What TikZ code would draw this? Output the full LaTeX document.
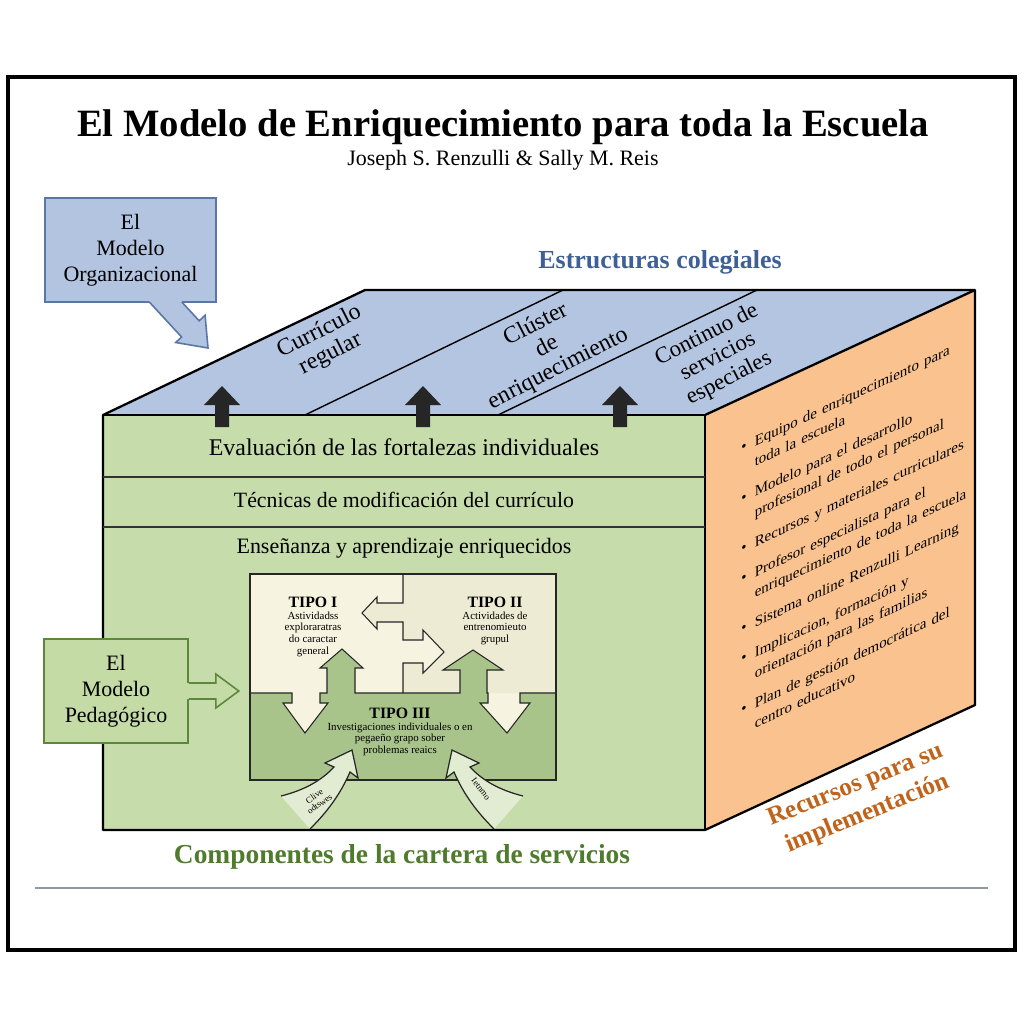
\documentclass[tikz,border=0pt]{standalone}
\usepackage{fontspec}
\setmainfont{Liberation Serif}
\usepackage{tikz}
\usetikzlibrary{positioning,calc}
\definecolor{topblue}{RGB}{180,197,225}
\definecolor{orgblue}{RGB}{178,196,224}
\definecolor{orgline}{RGB}{88,118,166}
\definecolor{facegreen}{RGB}{198,220,171}
\definecolor{pedgreen}{RGB}{196,219,166}
\definecolor{pedline}{RGB}{92,136,60}
\definecolor{sideorange}{RGB}{249,194,143}
\definecolor{creamA}{RGB}{246,243,224}
\definecolor{creamB}{RGB}{237,235,211}
\definecolor{tipogreen}{RGB}{168,196,139}
\definecolor{curvefill}{RGB}{226,236,210}
\definecolor{titleblue}{RGB}{63,96,150}
\definecolor{titlegreen}{RGB}{80,122,46}
\definecolor{titleorange}{RGB}{192,100,28}
\definecolor{rulegray}{RGB}{140,154,158}

\tikzset{
	cubeline/.style={draw=black,line width=1.3pt,line join=round},
	bandline/.style={draw=black!80,line width=0.7pt},
	modelbox/.style={rectangle,align=center,inner sep=0pt,minimum height=20.8mm,font=\fontsize{12.5}{14.8}\selectfont},
	toplabel/.style={align=center,rotate=27,font=\fontsize{13.5}{14}\selectfont},
	bandtext/.style={font=\fontsize{12.5}{15}\selectfont},
	tipohead/.style={font=\fontsize{9}{9.5}\selectfont\bfseries,inner sep=0pt},
	tipotext/.style={align=center,font=\fontsize{6.2}{6.7}\selectfont,inner sep=0pt},
	tipoline/.style={draw=black!85,line width=0.6pt,line join=miter},
	blockup/.style={fill=black!85},
	curvearrow/.style={draw=black!85,line width=0.7pt,fill=curvefill},
	curvetext/.style={font=\fontsize{5}{5.3}\selectfont,align=center,inner sep=0pt}
}
\newcommand{\resitem}[1]{\par\hangindent=0.9em\hangafter=1\noindent\makebox[0.9em][l]{\textbullet}#1\par\vspace{5.5pt}}

\begin{document}
\begin{tikzpicture}[x=0.2mm,y=-0.2mm]
		
		\useasboundingbox (0,0) rectangle (1024,1024);
		\fill[white] (0,0) rectangle (1024,1024);
		\draw[line width=1.8pt] (8,77) rectangle (1015,950);
		
		% title
		\node[font=\fontsize{22}{26}\selectfont\bfseries] (title) at (503,127) {El Modelo de Enriquecimiento para toda la Escuela};
		\node[font=\fontsize{12.5}{15}\selectfont] (authors) at (503,160) {Joseph S. Renzulli \& Sally M. Reis};
		
		% cube
		\coordinate (FLT) at (103,415);
		\coordinate (FRT) at (705,415);
		\coordinate (FRB) at (705,830);
		\coordinate (FLB) at (103,830);
		\coordinate (BLT) at (365,290);
		\coordinate (BRT) at (975,290);
		\coordinate (BRB) at (975,705);
		
		\fill[topblue] (FLT) -- (FRT) -- (BRT) -- (BLT) -- cycle;
		\fill[sideorange] (FRT) -- (BRT) -- (BRB) -- (FRB) -- cycle;
		\fill[facegreen] (FLT) rectangle (FRB);
		\draw[cubeline] (FLB) -- (FLT) -- (BLT) -- (BRT) -- (BRB) -- (FRB) -- cycle;
		\draw[cubeline] (FLT) -- (FRT) -- (FRB);
		\draw[cubeline] (FRT) -- (BRT);
		
		% top face
		\draw[line width=0.8pt] (305,415) -- (563,290);
		\draw[line width=0.8pt] (498,415) -- (757,290);
		\node[toplabel] (curr) at (325,343) {Currículo\\regular};
		\node[toplabel] (clus) at (547,347) {Clúster\\de\\enriquecimiento};
		\node[toplabel,font=\fontsize{13}{14}\selectfont] (cont) at (718,357) {Continuo de\\servicios\\especiales};
		\foreach \ax in {222,423,620}
			\fill[blockup] (\ax-7,427) -- (\ax-7,405) -- (\ax-18,405) -- (\ax,386) -- (\ax+18,405) -- (\ax+7,405) -- (\ax+7,427) -- cycle;
		
		% front face
		\draw[bandline] (103,477) -- (705,477);
		\draw[bandline] (103,527) -- (705,527);
		\node[bandtext,font=\fontsize{13.6}{15}\selectfont] (eval) at (404,447) {Evaluación de las fortalezas individuales};
		\node[bandtext,font=\fontsize{12.4}{15}\selectfont] (tecn) at (404,500) {Técnicas de modificación del currículo};
		\node[bandtext] (ense) at (404,548) {Enseñanza y aprendizaje enriquecidos};
		
		% tipos
		\fill[creamA] (250,574) rectangle (556,780);
		\fill[creamB] (403,574) -- (403,603) -- (377,603) -- (377,597) -- (362,613) -- (377,629) -- (377,622) -- (403,622) -- (403,640) -- (423,640) -- (423,630) -- (444,652) -- (423,673) -- (423,663) -- (403,663) -- (403,693) -- (556,693) -- (556,574) -- cycle;
		\fill[tipogreen] (250,693) -- (292,693) -- (292,703) -- (283,703) -- (305,733) -- (328,703) -- (320,703) -- (320,693) -- (327,693) -- (327,668) -- (320,668) -- (342,649) -- (363,668) -- (355,668) -- (355,693) -- (460,693) -- (460,670) -- (443,670) -- (473,650) -- (503,670) -- (487,670) -- (487,693) -- (488,693) -- (488,703) -- (480,703) -- (507,733) -- (530,703) -- (520,703) -- (520,693) -- (556,693) -- (556,780) -- (250,780) -- cycle;
		\draw[tipoline] (403,574) -- (403,603) -- (377,603) -- (377,597) -- (362,613) -- (377,629) -- (377,622) -- (403,622) -- (403,640) -- (423,640) -- (423,630) -- (444,652) -- (423,673) -- (423,663) -- (403,663) -- (403,693);
		\draw[tipoline] (250,693) -- (292,693) -- (292,703) -- (283,703) -- (305,733) -- (328,703) -- (320,703) -- (320,693) -- (327,693) -- (327,668) -- (320,668) -- (342,649) -- (363,668) -- (355,668) -- (355,693) -- (460,693) -- (460,670) -- (443,670) -- (473,650) -- (503,670) -- (487,670) -- (487,693) -- (488,693) -- (488,703) -- (480,703) -- (507,733) -- (530,703) -- (520,703) -- (520,693) -- (556,693);
		\draw[line width=1pt,draw=black!85] (250,574) rectangle (556,780);
		
		\node[tipohead] (t1) at (313,602) {TIPO I};
		\node[tipotext,below=2pt of t1] (t1txt) {Astividadss\\exploraratras\\do caractar\\general};
		\node[tipohead] (t2) at (495,602) {TIPO II};
		\node[tipotext,below=2pt of t2] (t2txt) {Actividades de\\entrenomieuto\\grupul};
		\node[tipohead] (t3) at (400,713) {TIPO III};
		\node[tipotext,below=2pt of t3] (t3txt) {Investigaciones individuales o en\\pegaeño grapo sober\\problemas reaics};
		
		% curved arrows
		\draw[curvearrow] (281,796) .. controls (305,790) and (322,780) .. (334,767) -- (325,763) -- (352,750) -- (358,778) -- (350,772) .. controls (340,795) and (327,812) .. (310,829);
		\draw[curvearrow] (523,796) .. controls (499,790) and (482,780) .. (470,767) -- (479,763) -- (452,750) -- (446,778) -- (454,772) .. controls (464,795) and (477,812) .. (494,829);
		\node[curvetext,rotate=35] (cl) at (317,800) {Clive\\odtswes};
		\node[curvetext,rotate=-52] (ie) at (481,789) {Ietnmo};
		
		% modelo organizacional
		\node[modelbox,fill=orgblue,draw=orgline,line width=0.9pt,minimum width=34.2mm] (org) at (130.5,250) {El\\Modelo\\Organizacional};
		\fill[orgblue] (149.3,298) -- (149.3,302) -- (181.6,337) -- (175.7,342.5) -- (208,348) -- (205.1,315.3) -- (199.2,320.8) -- (181.8,302) -- (181.8,298) -- cycle;
		\draw[orgline,line width=0.9pt,line join=miter] (149.3,302) -- (181.6,337) -- (175.7,342.5) -- (208,348) -- (205.1,315.3) -- (199.2,320.8) -- (181.8,302);
		
		% modelo pedagogico
		\node[modelbox,fill=pedgreen,draw=pedline,line width=0.9pt,minimum width=28.8mm] (ped) at (116,691) {El\\Modelo\\Pedagógico};
		\fill[pedgreen] ($(ped.east)+(-2,-8)$) -- ++(29,0) -- ++(0,-9) -- ++(23,17) -- ++(-23,17) -- ++(0,-9) -- ++(-29,0) -- cycle;
		\draw[pedline,line width=0.9pt,line join=miter] ($(ped.east)+(0,-8)$) -- ++(27,0) -- ++(0,-9) -- ++(23,17) -- ++(-23,17) -- ++(0,-9) -- ++(-27,0);
		
		% recursos
		\node[anchor=north west,yslant=0.47,text width=60mm,align=left,inner sep=0pt,font=\fontsize{8.5}{11.6}\selectfont] (res) at (741,432) {%
			\resitem{Equipo de enriquecimiento para\newline toda la escuela}%
			\resitem{Modelo para el desarrollo\newline profesional de todo el personal}%
			\resitem{Recursos y materiales curriculares}%
			\resitem{Profesor especialista para el\newline enriquecimiento de toda la escuela}%
			\resitem{Sistema online Renzulli Learning}%
			\resitem{Implicacion, formación y\newline orientación para las familias}%
			\resitem{Plan de gestión democrática del\newline centro educativo}};
		
		% outer labels
		\node[font=\fontsize{14.8}{16}\selectfont\bfseries,text=titleblue] (estr) at (660,262) {Estructuras colegiales};
		\node[font=\fontsize{15.6}{17}\selectfont\bfseries,text=titlegreen] (comp) at (402,857) {Componentes de la cartera de servicios};
		\node[font=\fontsize{14.5}{17.5}\selectfont\bfseries,text=titleorange,rotate=22,align=center] (recu) at (862,800) {Recursos para su\\implementación};
		
		\draw[rulegray,line width=1pt] (35,888) -- (988,888);
		
\end{tikzpicture}
\end{document}
